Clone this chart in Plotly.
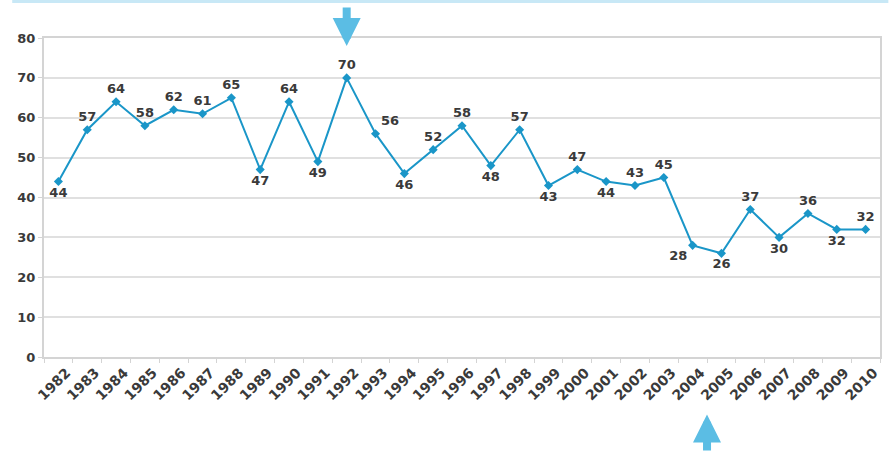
import plotly.graph_objects as go

years = [str(y) for y in range(1982, 2011)]
values = [44, 57, 64, 58, 62, 61, 65, 47, 64, 49, 70, 56, 46, 52, 58, 48, 57, 43, 47, 44, 43, 45, 28, 26, 37, 30, 36, 32, 32]
label_pos = ["bottom center", "top center", "top center", "top center", "top center", "top center", "top center",
             "bottom center", "top center", "bottom center", "top center", "top right", "bottom center", "top center",
             "top center", "bottom center", "top center", "bottom center", "top center", "bottom center", "top center",
             "top center", "bottom left", "bottom center", "top center", "bottom center", "top center", "bottom center",
             "top center"]
y_ticks = [0, 10, 20, 30, 40, 50, 60, 70, 80]

line_color = "#1a96c8"
arrow_color = "#5bbde4"
text_color = "#3a3a3a"

fig = go.Figure()
fig.add_trace(go.Scatter(
    x=years, y=values, mode="lines+markers+text",
    line=dict(color=line_color, width=2),
    marker=dict(symbol="diamond", size=7, color=line_color),
    text=[str(v) for v in values], textposition=label_pos,
    textfont=dict(family="DejaVu Sans", size=13, color=text_color, weight="bold"),
    cliponaxis=False, showlegend=False,
))

fig.update_layout(
    width=889, height=452,
    margin=dict(l=44, r=7, t=38, b=95),
    paper_bgcolor="white", plot_bgcolor="white",
    font=dict(family="DejaVu Sans", color=text_color),
    xaxis=dict(type="category", tickangle=-45, showgrid=False, range=[-0.5, 28.5], autorange=False,
               tickfont=dict(family="DejaVu Sans", size=14, color=text_color, weight="bold"),
               ticklabelshift=8,
               showline=True, linecolor="#d4d4d4", linewidth=2, mirror=True,
               ticks="outside", ticklen=4, tickcolor="#d4d4d4", tickson="boundaries"),
    yaxis=dict(range=[0, 80], tickvals=y_ticks, showgrid=True, gridcolor="#e0e0e0", gridwidth=2,
               tickfont=dict(family="DejaVu Sans", size=13, color=text_color, weight="bold"),
               showline=True, linecolor="#d4d4d4", linewidth=2, mirror=True,
               ticks="outside", ticklen=4, tickcolor="#d4d4d4", zeroline=False),
)

# light blue strip at top
fig.add_shape(type="rect", xref="paper", yref="paper", x0=-0.038, x1=1.01, y0=1.11, y1=1.125,
              fillcolor="#c8e8f6", line=dict(width=0), layer="above")

# arrows
fig.add_annotation(x=10, y=0.975, xref="x", yref="paper", ax=0, ay=-40, showarrow=True,
                   arrowhead=2, arrowwidth=8, arrowsize=0.7, arrowcolor=arrow_color, text="")
fig.add_annotation(x=22.5, y=-0.18, xref="x", yref="paper", ax=0, ay=46, showarrow=True,
                   arrowhead=2, arrowwidth=8, arrowsize=0.7, arrowcolor=arrow_color, text="")

fig.write_html("out.html")
